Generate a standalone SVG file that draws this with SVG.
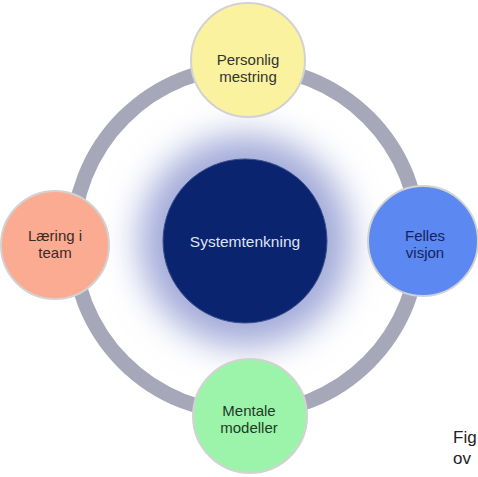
<svg xmlns="http://www.w3.org/2000/svg" width="478" height="477" viewBox="0 0 478 477">
<defs>
<style>
.node{stroke:#d2d2d2;stroke-width:2}
.t{font-family:"Liberation Sans",Arial,sans-serif;font-size:15px;text-anchor:middle}
</style>
<filter id="blur" x="-50%" y="-50%" width="200%" height="200%"><feGaussianBlur stdDeviation="17"/></filter>
</defs>
<rect width="478" height="477" fill="#ffffff"/>
<g id="glow"><circle cx="245" cy="241" r="106" fill="#a3abd9" filter="url(#blur)"/></g>
<g id="connectors"><circle cx="246" cy="240" r="173" fill="none" stroke="#a6a7b8" stroke-width="15"/></g>
<g id="node-top"><circle class="node" cx="248" cy="60" r="57" fill="#faf29e"/>
<text class="t" x="248" y="65" fill="#333">Personlig</text><text class="t" x="248" y="82" fill="#333">mestring</text></g>
<g id="node-left"><circle class="node" cx="55" cy="245" r="54" fill="#fbab91"/>
<text class="t" x="55" y="241" fill="#3a2a25">Læring i</text><text class="t" x="55" y="258" fill="#3a2a25">team</text></g>
<g id="node-right"><circle class="node" cx="423" cy="241" r="55" fill="#5b88f1"/>
<text class="t" x="425" y="241" fill="#13245a">Felles</text><text class="t" x="425" y="258" fill="#13245a">visjon</text></g>
<g id="node-bottom"><circle class="node" cx="250" cy="416" r="57" fill="#9cf4aa"/>
<text class="t" x="249" y="416" fill="#1e3a26">Mentale</text><text class="t" x="249" y="433" fill="#1e3a26">modeller</text></g>
<g id="node-center"><circle cx="245" cy="241" r="82" fill="#0b2470" stroke="#3b4f8e" stroke-width="1"/>
<text class="t" x="245" y="247" fill="#dfe3f2" style="font-size:15.5px">Systemtenkning</text></g>
<text x="453" y="443" style="font-family:'Liberation Sans',Arial,sans-serif;font-size:17px" fill="#222">Fig</text>
<text x="453" y="464" style="font-family:'Liberation Sans',Arial,sans-serif;font-size:17px" fill="#222">ov</text>
</svg>
